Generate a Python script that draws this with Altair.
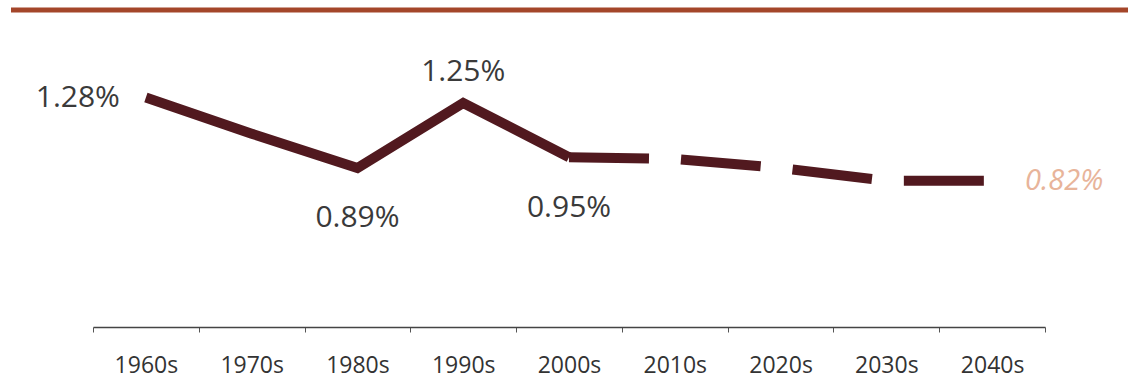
import altair as alt
import pandas as pd

decades = ["1960s", "1970s", "1980s", "1990s", "2000s", "2010s", "2020s", "2030s", "2040s"]
years = [1960, 1970, 1980, 1990, 2000, 2010, 2020, 2030, 2040]
rates = [1.28, 1.08, 0.89, 1.25, 0.95, 0.94, 0.89, 0.82, 0.82]
labels = ["1.28%", "", "0.89%", "1.25%", "0.95%", "", "", "", "0.82%"]

df = pd.DataFrame({"decade": decades, "year": years, "rate": rates, "label": labels})

LINE = "#51191f"
TEXT = "#3a3a3a"

x = alt.X("decade:N", sort=decades, title=None,
          scale=alt.Scale(paddingInner=0, paddingOuter=0),
          axis=alt.Axis(tickBand="extent", tickSize=5, tickColor="#555", tickWidth=1,
                        domainColor="#444", domainWidth=1.5, labelAngle=0,
                        labelFont="Open Sans", labelFontSize=23, labelColor="#333",
                        labelPadding=22))
y = alt.Y("rate:Q", title=None, axis=None,
          scale=alt.Scale(domain=[0.01, 1.82], nice=False, zero=False))

base = alt.Chart(df)

solid = base.mark_line(color=LINE, strokeWidth=10, strokeCap="butt", strokeJoin="miter").encode(
    x=x, y=y).transform_filter("datum.year <= 2000")
dashed = base.mark_line(color=LINE, strokeWidth=10, strokeCap="butt", strokeJoin="miter",
                        strokeDash=[80, 32]).encode(x=x, y=y).transform_filter("datum.year >= 2000")

def txt(filt, **kw):
    opts = dict(font="Open Sans", fontSize=30, color=TEXT, baseline="middle")
    opts.update(kw)
    return base.mark_text(**opts).encode(x=x, y=y, text="label:N").transform_filter(filt)

lab_left = txt("datum.year == 1960", align="right", dx=-26, dy=0)
lab_up = txt("datum.year == 1990", align="center", dy=-31)
lab_down1 = txt("datum.year == 1980", align="center", dy=50)
lab_down2 = txt("datum.year == 2000", align="center", dy=51)
lab_right = txt("datum.year == 2040", align="left", dx=33, dy=0, fontStyle="italic",
                fontSize=29, color="#e8b49a")

top_rule = alt.Chart(pd.DataFrame({"k": [0]})).mark_rule(color="#a4462a", strokeWidth=5).encode(
    x=alt.value(-82), x2=alt.value(1040), y=alt.value(10))

chart = alt.layer(top_rule, solid, dashed, lab_left, lab_up, lab_down1, lab_down2, lab_right).properties(
    width=952, height=327,
    autosize=alt.AutoSizeParams(type="none"),
    padding={"left": 93, "top": 0, "right": 83, "bottom": 55},
    background="white",
).configure_view(stroke=None)

chart.save("out.html", embed_options={"renderer": "svg", "actions": False})
